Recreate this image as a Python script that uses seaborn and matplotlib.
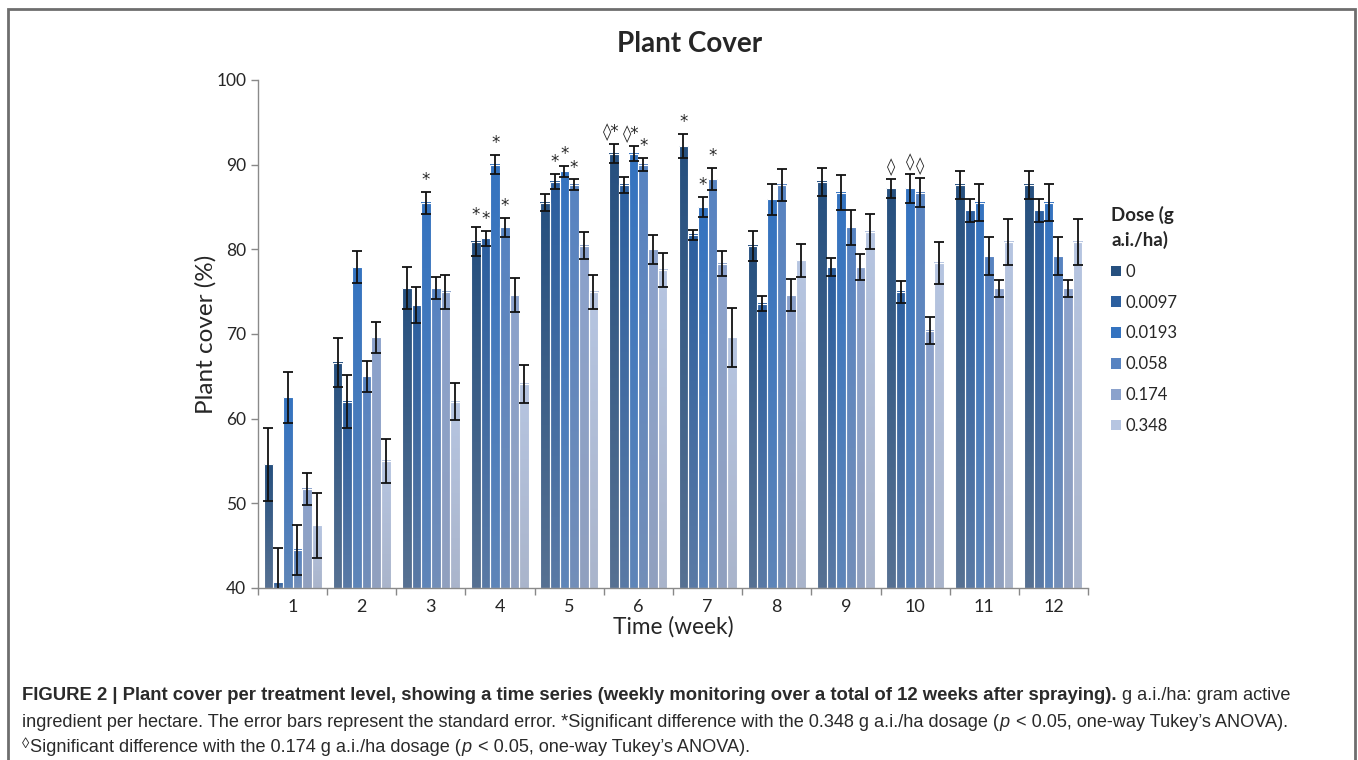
import numpy as np
import pandas as pd
import matplotlib
matplotlib.use("Agg")
import matplotlib.pyplot as plt
import seaborn as sns
from matplotlib.colors import to_rgb
from matplotlib.patches import Rectangle

weeks = [str(i) for i in range(1, 13)]
doses = ['0', '0.0097', '0.0193', '0.058', '0.174', '0.348']

# mean plant cover (%) per dose, weeks 1..12
cover_0 = [54.6, 66.6, 75.4, 80.9, 85.5, 91.3, 92.2, 80.4, 88.0, 87.2, 87.6, 87.6]
cover_0097 = [40.7, 62.0, 73.4, 81.3, 88.0, 87.6, 81.7, 73.6, 77.9, 75.0, 84.6, 84.6]
cover_0193 = [62.5, 77.9, 85.5, 90.0, 89.2, 91.3, 85.0, 85.9, 86.7, 87.2, 85.5, 85.5]
cover_058 = [44.5, 65.0, 75.4, 82.6, 87.6, 90.0, 88.3, 87.6, 82.6, 86.7, 79.2, 79.2]
cover_174 = [51.7, 69.6, 75.0, 74.6, 80.4, 80.0, 78.3, 74.6, 77.9, 70.4, 75.4, 75.4]
cover_348 = [47.4, 55.0, 62.0, 64.1, 75.0, 77.6, 69.6, 78.7, 82.1, 78.4, 80.9, 80.9]

# standard errors
se_0 = [4.3, 2.9, 2.5, 1.7, 1.0, 1.1, 1.4, 1.8, 1.65, 1.15, 1.7, 1.7]
se_0097 = [4.0, 3.1, 2.1, 0.9, 0.9, 0.9, 0.55, 0.9, 1.1, 1.3, 1.35, 1.35]
se_0193 = [3.0, 1.85, 1.3, 1.1, 0.7, 0.9, 1.2, 1.85, 2.1, 1.75, 2.2, 2.2]
se_058 = [3.0, 1.85, 1.3, 1.1, 0.65, 0.8, 1.3, 1.9, 2.1, 1.7, 2.2, 2.2]
se_174 = [1.9, 1.85, 2.0, 2.05, 1.6, 1.75, 1.45, 1.85, 1.5, 1.6, 1.0, 1.0]
se_348 = [3.8, 2.65, 2.2, 2.2, 2.0, 2.0, 3.45, 1.95, 2.1, 2.5, 2.7, 2.7]

# significance markers
sig_weeks = ['3', '4', '4', '4', '4', '5', '5', '5', '6', '6', '6', '7', '7', '7', '10', '10', '10']
sig_doses = ['0.0193', '0', '0.0097', '0.0193', '0.058', '0.0097', '0.0193', '0.058',
             '0', '0.0193', '0.058', '0', '0.0193', '0.058', '0', '0.0193', '0.058']
sig_marks = ['*', '*', '*', '*', '*', '*', '*', '*', '◊*', '◊*', '*', '*', '*', '*', '◊', '◊', '◊']

colors = ['#26507f', '#2c5f9f', '#3473c0', '#5783c1', '#8ba2cc', '#b6c5e1']

covers = [cover_0, cover_0097, cover_0193, cover_058, cover_174, cover_348]
ses = [se_0, se_0097, se_0193, se_058, se_174, se_348]
rows = []
for d, c, s in zip(doses, covers, ses):
    for w, v, e in zip(weeks, c, s):
        rows.append({'week': w, 'dose': d, 'cover': v, 'se': e})
df = pd.DataFrame(rows)

sns.set_style('white')
plt.rcParams['font.family'] = ['Lato', 'DejaVu Sans']

fig = plt.figure(figsize=(13.58, 7.6), dpi=100)
ax = fig.add_axes([258 / 1358, 1 - 588 / 760, 830 / 1358, 508 / 760])

sns.barplot(data=df, x='week', y='cover', hue='dose', order=weeks, hue_order=doses,
            palette=colors, width=0.84, edgecolor='white', linewidth=0.8,
            errorbar=None, ax=ax, legend=False)

ax.set_ylim(40, 100)
xlim = ax.get_xlim()
bar_conts = list(ax.containers)

# vertical shading on each bar, darker at top, greyer at bottom
for i, cont in enumerate(bar_conts):
    top = np.array(to_rgb(colors[i]))
    bot = top * 0.58 + np.array([0.6, 0.62, 0.68]) * 0.42
    g = np.linspace(0, 1, 64)[:, None, None]
    img = bot * (1 - g) + top * g
    for bar in cont:
        x0 = bar.get_x()
        w = bar.get_width()
        ax.imshow(img, extent=[x0, x0 + w, 40, bar.get_height()], origin='lower',
                  aspect='auto', zorder=bar.get_zorder() + 0.1, interpolation='bilinear')
        ax.add_patch(Rectangle((x0, 40), w, bar.get_height() - 40, fill=False,
                               edgecolor='white', linewidth=0.8, zorder=bar.get_zorder() + 0.2))

# error bars
centers = {}
for i, cont in enumerate(bar_conts):
    xs = [b.get_x() + b.get_width() / 2 for b in cont]
    for w, x in zip(weeks, xs):
        centers[(w, doses[i])] = x
    ax.errorbar(xs, covers[i], yerr=ses[i], fmt='none', ecolor='#111111',
                elinewidth=1.3, capsize=3.3, capthick=1.3, zorder=5)

# significance markers
for w, d, m in zip(sig_weeks, sig_doses, sig_marks):
    k = doses.index(d)
    j = weeks.index(w)
    xm = centers[(w, d)]
    if len(m) > 1:
        xm -= 0.04
    ax.text(xm, covers[k][j] + ses[k][j] + 0.35, m, ha='center', va='bottom',
            fontsize=12, family=['DejaVu Sans'], zorder=6)

ax.set_xlim(xlim)
ax.set_ylim(40, 100)
ax.set_yticks(range(40, 101, 10))
ax.set_xticks(np.arange(-0.5, 12, 1), minor=True)
ax.tick_params(axis='x', which='major', length=0, labelsize=13, pad=8)
ax.tick_params(axis='x', which='minor', length=5, color='#888888', width=1, bottom=True)
ax.tick_params(axis='y', length=5, color='#888888', width=1, labelsize=12.5, left=True)
for s in ['top', 'right']:
    ax.spines[s].set_visible(False)
for s in ['left', 'bottom']:
    ax.spines[s].set_color('#8a8a8a')
    ax.spines[s].set_linewidth(1)

ax.set_xlabel('Time (week)', fontsize=16.3, labelpad=1)
ax.set_ylabel('Plant cover (%)', fontsize=17.5, labelpad=0)
fig.text(690 / 1358, 1 - 44 / 760, 'Plant Cover', ha='center', va='center',
         fontsize=20, fontweight='bold')

# legend
handles = [Rectangle((0, 0), 1, 1, facecolor=c, edgecolor='none') for c in colors]
leg = fig.legend(handles, doses, loc='upper left', bbox_to_anchor=(1096 / 1358, 1 - 191 / 760),
                 frameon=False, fontsize=12, title='Dose (g\na.i./ha)',
                 title_fontproperties={'weight': 'bold', 'size': 13.5},
                 handlelength=0.6, handleheight=0.6, handletextpad=0.3,
                 labelspacing=0.89, alignment='left')
leg.get_title().set_linespacing(1.45)

# frame round the whole figure
fig.add_artist(Rectangle((7.5 / 1358, -0.1), 1347 / 1358, 1.1 - 9 / 760, transform=fig.transFigure,
                         fill=False, edgecolor='#6e6e6e', linewidth=2))

# caption
cap_font = ['Liberation Sans Narrow', 'Liberation Sans', 'DejaVu Sans']
renderer = fig.canvas.get_renderer()


def width_of(txt, **kw):
    t = fig.text(0, 0, txt, **kw)
    wpx = t.get_window_extent(renderer).width
    t.remove()
    return wpx


def cap_line(pieces, x, y):
    for txt, kw in pieces:
        kw = dict(kw)
        dy = kw.pop('dy', 0)
        gap = kw.pop('gap', 0)
        x += gap
        t = fig.text(x / 1358, 1 - (y - dy) / 760, txt, va='baseline', ha='left',
                     color='#2a2a2a', family=cap_font, **kw)
        x += t.get_window_extent(renderer).width


fs = 13.1
sp = width_of('x x', family=cap_font, fontsize=fs) - width_of('xx', family=cap_font, fontsize=fs)
norm = {'fontsize': fs}
bold = {'fontsize': 13.3, 'fontweight': 'bold'}
ital = {'fontsize': fs, 'style': 'italic'}

cap_line([('FIGURE 2 | Plant cover per treatment level, showing a time series (weekly monitoring '
           'over a total of 12 weeks after spraying).', bold),
          ('g a.i./ha: gram active', dict(norm, gap=sp))], 22, 700)
cap_line([('ingredient per hectare. The error bars represent the standard error. *Significant '
           'difference with the 0.348 g a.i./ha dosage (', norm),
          ('p', ital),
          ('< 0.05, one-way Tukey\u2019s ANOVA).', dict(norm, gap=sp * 1.3))], 22, 727)
cap_line([('\u25ca', dict(norm, fontsize=10.5, dy=4)),
          ('Significant difference with the 0.174 g a.i./ha dosage (', dict(norm, gap=1)),
          ('p', ital),
          ('< 0.05, one-way Tukey\u2019s ANOVA).', dict(norm, gap=sp * 1.3))], 22, 752)

fig.savefig('out.png', dpi=100)
